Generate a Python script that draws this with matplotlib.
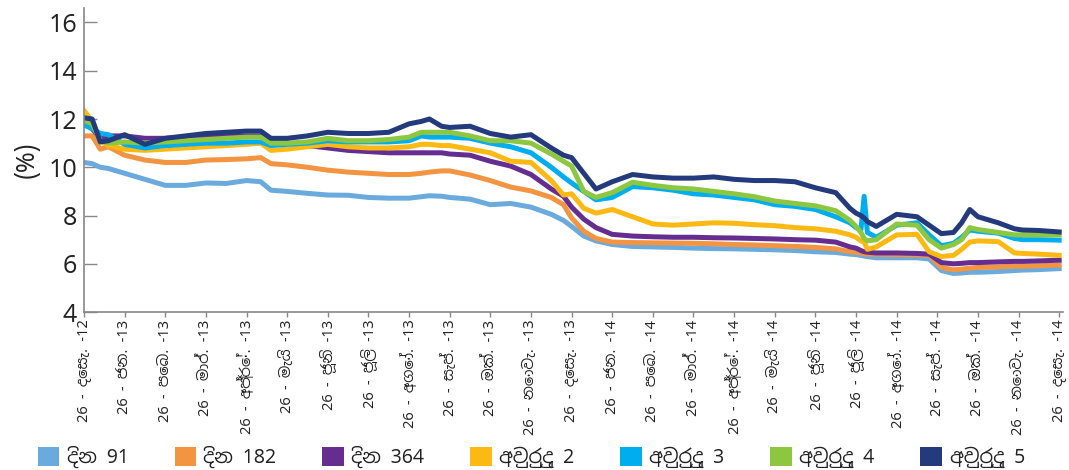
import matplotlib
matplotlib.use('Agg')
import matplotlib.pyplot as plt
from matplotlib.patches import Patch
from matplotlib import font_manager

# Sinhala capable font first if one exists, otherwise fall back
wanted = ['Noto Sans Sinhala', 'Noto Serif Sinhala', 'Iskoola Pota', 'Open Sans', 'DejaVu Sans']
have = {f.name for f in font_manager.fontManager.ttflist}
plt.rcParams['font.family'] = [f for f in wanted if f in have] or ['DejaVu Sans']

# x position in months after 26 Dec 2012
months = [0, 0.2, 0.4, 0.6, 1, 1.5, 2, 2.5, 3, 3.5, 4, 4.35, 4.6, 5, 5.5, 6, 6.5, 7, 7.5, 8,
          8.3, 8.5, 8.8, 9, 9.5, 10, 10.5, 11, 11.5, 11.8, 12, 12.3, 12.6, 13, 13.5, 14, 14.5,
          15, 15.5, 16, 16.5, 17, 17.5, 18, 18.5, 18.85, 19.0, 19.12, 19.2, 19.28, 19.5, 20,
          20.5, 20.8, 21.1, 21.4, 21.6, 21.8, 22, 22.5, 22.9, 23.1, 23.5, 24]

d91 = [10.2, 10.15, 10.0, 9.95, 9.75, 9.5, 9.25, 9.25, 9.35, 9.33, 9.45, 9.4, 9.05, 9.0, 8.92,
       8.85, 8.84, 8.75, 8.72, 8.72, 8.78, 8.82, 8.8, 8.75, 8.68, 8.45, 8.5, 8.35, 8.05, 7.8,
       7.55, 7.15, 6.95, 6.8, 6.72, 6.7, 6.68, 6.65, 6.63, 6.62, 6.6, 6.58, 6.55, 6.5, 6.47,
       6.4, 6.38, 6.35, 6.32, 6.3, 6.25, 6.25, 6.25, 6.2, 5.72, 5.6, 5.62, 5.65, 5.65, 5.68,
       5.72, 5.74, 5.76, 5.8]
d182 = [11.3, 11.3, 10.75, 10.85, 10.5, 10.3, 10.2, 10.2, 10.3, 10.32, 10.35, 10.4, 10.15, 10.1,
        10.0, 9.88, 9.8, 9.75, 9.7, 9.7, 9.75, 9.8, 9.85, 9.85, 9.68, 9.45, 9.18, 9.02, 8.75,
        8.45, 7.9, 7.35, 7.05, 6.9, 6.88, 6.87, 6.86, 6.85, 6.83, 6.8, 6.78, 6.75, 6.72, 6.68,
        6.62, 6.5, 6.48, 6.45, 6.42, 6.4, 6.4, 6.38, 6.37, 6.35, 5.85, 5.75, 5.78, 5.82, 5.85,
        5.87, 5.9, 5.9, 5.92, 5.95]
d364 = [11.8, 11.6, 11.2, 11.3, 11.3, 11.2, 11.2, 11.25, 11.25, 11.27, 11.3, 11.3, 11.0, 11.0,
        10.9, 10.8, 10.7, 10.65, 10.6, 10.6, 10.6, 10.6, 10.6, 10.55, 10.5, 10.25, 10.05, 9.7,
        9.1, 8.8, 8.35, 7.85, 7.5, 7.22, 7.15, 7.12, 7.1, 7.1, 7.08, 7.07, 7.05, 7.03, 7.0,
        6.98, 6.9, 6.7, 6.65, 6.55, 6.5, 6.48, 6.45, 6.45, 6.43, 6.4, 6.05, 6.0, 6.02, 6.05,
        6.05, 6.08, 6.1, 6.1, 6.12, 6.15]
y2 = [12.35, 11.9, 11.1, 10.9, 10.75, 10.7, 10.75, 10.8, 10.85, 10.9, 10.95, 11.0, 10.7, 10.75,
      10.85, 10.95, 10.85, 10.8, 10.8, 10.85, 10.95, 10.95, 10.9, 10.9, 10.75, 10.6, 10.25,
      10.2, 9.45, 8.85, 8.9, 8.3, 8.1, 8.25, 7.95, 7.65, 7.6, 7.65, 7.7, 7.68, 7.62, 7.58, 7.5,
      7.45, 7.35, 7.2, 7.1, 6.95, 6.9, 6.6, 6.7, 7.2, 7.22, 6.5, 6.3, 6.35, 6.6, 6.9, 6.95,
      6.92, 6.45, 6.43, 6.4, 6.35]
y3 = [11.75, 11.6, 11.4, 11.35, 10.95, 10.8, 10.9, 10.95, 11.0, 11.0, 11.05, 11.05, 10.9, 10.95,
      11.0, 11.1, 11.05, 11.05, 11.05, 11.1, 11.3, 11.25, 11.25, 11.25, 11.2, 11.0, 10.85,
      10.6, 10.0, 9.6, 9.35, 9.0, 8.65, 8.75, 9.2, 9.15, 9.05, 8.9, 8.85, 8.75, 8.65, 8.45,
      8.38, 8.25, 7.95, 7.7, 7.5, 7.4, 8.8, 7.3, 7.1, 7.6, 7.7, 7.2, 6.75, 6.85, 7.1, 7.4,
      7.35, 7.27, 7.05, 7.0, 7.0, 6.98]
y4 = [11.95, 11.8, 11.1, 11.0, 11.05, 11.0, 11.05, 11.1, 11.15, 11.2, 11.25, 11.25, 11.0, 11.0,
      11.05, 11.2, 11.1, 11.1, 11.15, 11.25, 11.45, 11.45, 11.45, 11.45, 11.3, 11.1, 11.1,
      11.0, 10.55, 10.25, 10.05, 9.0, 8.75, 8.95, 9.38, 9.25, 9.15, 9.1, 9.0, 8.9, 8.78, 8.6,
      8.5, 8.4, 8.2, 7.8, 7.55, 7.3, 7.05, 6.95, 7.0, 7.65, 7.6, 7.0, 6.65, 6.8, 7.0, 7.5,
      7.42, 7.3, 7.2, 7.2, 7.2, 7.2]
y5 = [12.05, 12.0, 11.05, 11.1, 11.35, 10.95, 11.2, 11.3, 11.4, 11.45, 11.5, 11.5, 11.2, 11.2,
      11.3, 11.45, 11.4, 11.4, 11.45, 11.8, 11.9, 12.0, 11.7, 11.65, 11.7, 11.4, 11.25, 11.35,
      10.8, 10.5, 10.4, 9.75, 9.1, 9.4, 9.7, 9.6, 9.55, 9.55, 9.6, 9.5, 9.45, 9.45, 9.4, 9.15,
      8.95, 8.3, 8.1, 8.0, 7.9, 7.75, 7.55, 8.05, 7.95, 7.6, 7.25, 7.3, 7.7, 8.25, 7.95, 7.7,
      7.45, 7.4, 7.38, 7.32]

series = [d91, d182, d364, y2, y3, y4, y5]
names = ['දින 91', 'දින 182', 'දින 364', 'අවුරුදු 2', 'අවුරුදු 3', 'අවුරුදු 4', 'අවුරුදු 5']
colors = ['#6aaadd', '#f39441', '#662d91', '#fdb913', '#00aeef', '#8dc63f', '#233a7c']

month_names = ['දෙසැ.', 'ජන.', 'පෙබ.', 'මාර්.', 'අප්‍රේ.', 'මැයි', 'ජූනි', 'ජූලි',
               'අගෝ.', 'සැප්.', 'ඔක්.', 'නොවැ.']
tick_labels = []
for i in range(25):
    yr = 12 + (i + 11) // 12
    tick_labels.append('26 - %s -%d' % (month_names[i % 12], yr))

fig = plt.figure(figsize=(10.69, 4.70), dpi=100)
ax = fig.add_axes([0.0786, 0.336, 0.916, 0.647])

for vals, c in zip(series, colors):
    ax.plot(months, vals, color=c, linewidth=3.6, solid_joinstyle='round')

ax.set_xlim(0, 24.1)
ax.set_ylim(4, 16.6)
ax.set_yticks(range(4, 17, 2))
ax.set_xticks(range(25))
ax.set_xticklabels(tick_labels, rotation=90, fontsize=10.5)
ax.tick_params(axis='y', direction='in', length=9, width=1, color='#888888',
               labelsize=18, pad=5, labelcolor='#222222')
ax.tick_params(axis='x', direction='out', length=3.5, width=1, color='#888888',
               pad=2, labelcolor='#222222')
ax.set_ylabel('(%)', fontsize=18, color='#222222', labelpad=6)

for s in ['top', 'right']:
    ax.spines[s].set_visible(False)
for s in ['left', 'bottom']:
    ax.spines[s].set_color('#888888')
    ax.spines[s].set_linewidth(1.2)

handles = [Patch(facecolor=c, edgecolor='none') for c in colors]
fig.legend(handles, names, loc='center', bbox_to_anchor=(0.497, 0.027), ncol=7,
           frameon=False, fontsize=14, handlelength=1.1, handleheight=1.1,
           handletextpad=0.4, columnspacing=2.35, labelcolor='#222222')

fig.savefig('out.png', dpi=100)
